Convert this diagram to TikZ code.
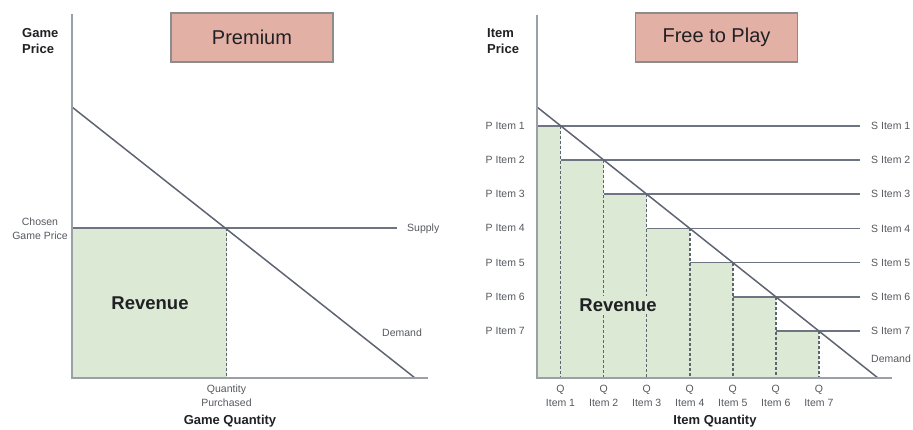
\documentclass[tikz,border=0pt]{standalone}
\usepackage{fontspec}
\setmainfont{Liberation Sans}
\definecolor{revgreen}{HTML}{DCE9D4}
\definecolor{boxred}{HTML}{E3B0A6}
\definecolor{boxedge}{HTML}{8C8C8C}
\definecolor{axisgray}{HTML}{9AA0A6}
\definecolor{demandline}{HTML}{5F6473}
\definecolor{supplyline}{HTML}{6F7482}
\definecolor{labelgray}{HTML}{55595E}
\definecolor{titleblack}{HTML}{202124}
\tikzset{
  axisline/.style={draw=axisgray, line width=2pt},
  demandln/.style={draw=demandline, line width=1.5pt},
  supplyln/.style={draw=supplyline, line width=1.6pt},
  dashln/.style={draw=demandline, line width=1.4pt, dash pattern=on 3pt off 2pt},
  titlebox/.style={draw=boxedge, fill=boxred, line width=1.3pt, minimum width=162pt, minimum height=49pt, font=\fontsize{20}{24}\selectfont, text=titleblack, inner sep=0pt},
  smalllabel/.style={font=\fontsize{10.5}{14}\selectfont, text=labelgray, inner sep=0pt},
  axistitle/.style={font=\bfseries\fontsize{13}{17}\selectfont, text=titleblack, inner sep=0pt},
  revlabel/.style={font=\bfseries\fontsize{18.5}{22}\selectfont, text=titleblack, inner sep=1pt},
}
\begin{document}
\begin{tikzpicture}[x=1pt,y=-1pt]
\useasboundingbox (0,0) rectangle (913,429);
% ---------------- Left panel: Premium ----------------
\coordinate (LO) at (72,378);
\coordinate (LT) at (72,14);
\coordinate (LX) at (428,378);
\coordinate (LD1) at (72,107);
\coordinate (LD2) at (415,378);
\coordinate (LE) at (226.5,228);
\coordinate (LP) at (72,228);
\coordinate (LS) at (397,228);
\coordinate (LQ) at (226.5,378);
\fill[revgreen] (LO) rectangle (LE);
\draw[dashln] (LE) -- (LQ);
\draw[supplyln] (LP) -- (LS);
\draw[demandln] (LD1) -- (LD2);
\draw[axisline] (LT) -- (LO) -- (LX);
\node[titlebox] (premium) at (252,37.5) {Premium};
\node[axistitle, align=left, anchor=north west] (gp) at (22,28) {Game\\[-1pt]Price};
\node[smalllabel, align=center] (cgp) at (40,229) {Chosen\\Game Price};
\node[smalllabel, anchor=west] (supply) at (407,229) {Supply};
\node[smalllabel, anchor=west] (demandL) at (382,333) {Demand};
\node[revlabel] (revL) at (150,303) {Revenue};
\node[smalllabel, align=center] (qp) at (226.5,396) {Quantity\\Purchased};
\node[axistitle] (gq) at (230,421) {Game Quantity};
% ---------------- Right panel: Free to Play ----------------
\coordinate (RO) at (537,378);
\coordinate (RT) at (537,15);
\coordinate (RX) at (892,378);
\coordinate (RD1) at (537,107);
\coordinate (RD2) at (878,378);
\coordinate (E1) at (560.5,125.7);
\coordinate (E2) at (603.7,160);
\coordinate (E3) at (646.7,194.2);
\coordinate (E4) at (689.8,228.4);
\coordinate (E5) at (732.8,262.6);
\coordinate (E6) at (775.8,296.8);
\coordinate (E7) at (818.9,331);
\coordinate (E0) at (537,125.7);
\fill[revgreen] (RO) -- (E0) -- (E1) |- (E2) |- (E3) |- (E4) |- (E5) |- (E6) |- (E7) -- (818.9,378) -- cycle;
\foreach \k in {1,...,7} {
  \draw[dashln] (E\k) -- (E\k |- RO);
}
\draw[supplyln] (E0) -- (860,125.7);
\foreach \k/\p in {2/1,3/2,4/3,5/4,6/5,7/6} {
  \draw[supplyln] (E\k -| E\p) -- (E\k -| 860,0);
}
\draw[demandln] (RD1) -- (RD2);
\draw[axisline] (RT) -- (RO) -- (RX);
\node[revlabel, fill=revgreen, inner sep=3pt] (revR) at (618,305) {Revenue};
\foreach \k in {1,...,7} {
  \node[smalllabel, anchor=east] (P\k) at (E\k -| 525,0) {P Item \k};
  \node[smalllabel, anchor=west] (S\k) at (E\k -| 871,0) {S Item \k};
  \node[smalllabel, align=center] (Q\k) at (E\k |- 0,396) {Q\\Item \k};
}
\node[smalllabel, anchor=west] (demandR) at (871,359) {Demand};
\node[titlebox] (f2p) at (716.5,37.5) {Free to Play};
\node[axistitle, align=left, anchor=north west] (ip) at (487,28) {Item\\[-1pt]Price};
\node[axistitle] (iq) at (715,421) {Item Quantity};
\end{tikzpicture}
\end{document}
